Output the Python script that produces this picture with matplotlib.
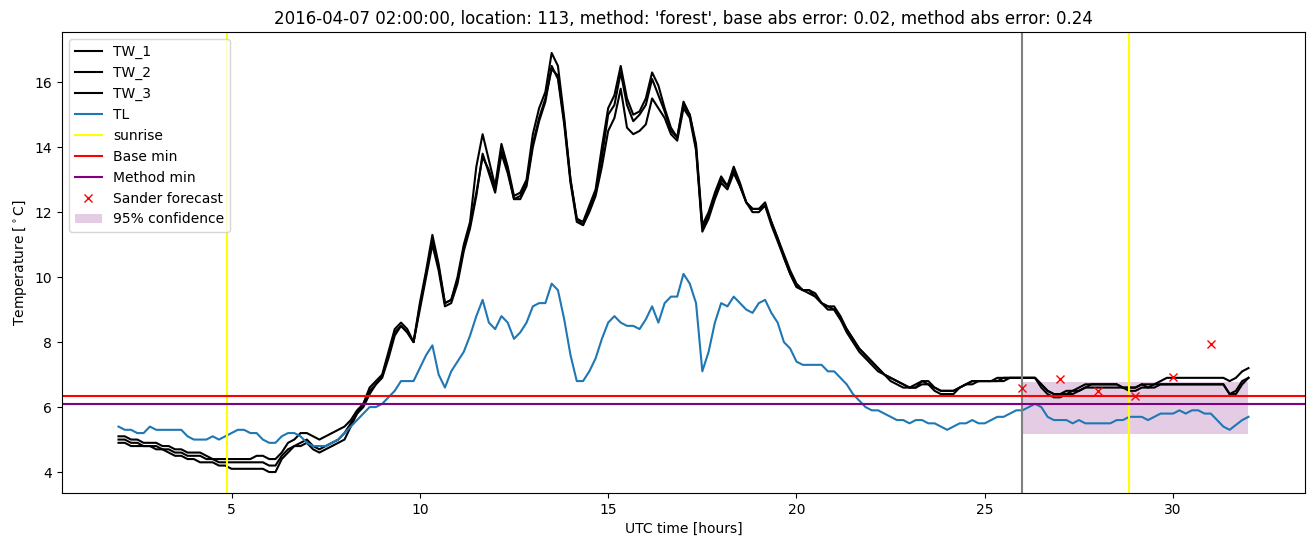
import numpy as np
import matplotlib.pyplot as plt

# 10-minute readings from 02:00 on day 1 to 08:00 on day 2 (hours since midnight)
hours = 2 + np.arange(181) / 6

tw_1 = [5.1, 5.1, 5.0, 5.0, 4.9, 4.9,
        4.9, 4.8, 4.8, 4.7, 4.7, 4.6,
        4.6, 4.6, 4.5, 4.4, 4.4, 4.4,
        4.4, 4.4, 4.4, 4.4, 4.5, 4.5,
        4.4, 4.4, 4.6, 4.9, 5.0, 5.2,
        5.2, 5.1, 5.0, 5.1, 5.2, 5.3,
        5.4, 5.6, 5.9, 6.1, 6.6, 6.8,
        7.0, 7.7, 8.4, 8.6, 8.4, 8.0,
        9.2, 10.2, 11.3, 10.4, 9.2, 9.3,
        10.0, 11.0, 11.7, 13.4, 14.4, 13.6,
        12.8, 14.1, 13.4, 12.5, 12.6, 13.0,
        14.4, 15.2, 15.7, 16.9, 16.5, 14.9,
        13.0, 11.8, 11.7, 12.2, 12.7, 14.0,
        15.2, 15.6, 16.5, 15.5, 15.0, 15.1,
        15.5, 16.3, 15.9, 15.2, 14.6, 14.3,
        15.4, 15.0, 14.1, 11.6, 12.0, 12.6,
        13.1, 12.8, 13.4, 12.9, 12.3, 12.1,
        12.1, 12.3, 11.7, 11.2, 10.6, 10.1,
        9.7, 9.6, 9.6, 9.4, 9.2, 9.1,
        9.0, 8.7, 8.4, 8.1, 7.8, 7.6,
        7.4, 7.2, 7.0, 6.9, 6.8, 6.7,
        6.6, 6.7, 6.8, 6.7, 6.6, 6.5,
        6.5, 6.5, 6.6, 6.7, 6.8, 6.8,
        6.8, 6.8, 6.9, 6.9, 6.9, 6.9,
        6.9, 6.9, 6.9, 6.7, 6.5, 6.4,
        6.4, 6.5, 6.5, 6.6, 6.7, 6.7,
        6.7, 6.7, 6.7, 6.7, 6.6, 6.6,
        6.6, 6.7, 6.7, 6.7, 6.8, 6.9,
        6.9, 6.9, 6.9, 6.9, 6.9, 6.9,
        6.9, 6.9, 6.9, 6.8, 6.9, 7.1,
        7.2]

tw_2 = [5.0, 5.0, 4.9, 4.9, 4.8, 4.8,
        4.8, 4.7, 4.7, 4.6, 4.6, 4.5,
        4.5, 4.5, 4.4, 4.4, 4.3, 4.3,
        4.3, 4.3, 4.3, 4.3, 4.3, 4.3,
        4.2, 4.2, 4.5, 4.7, 4.8, 4.9,
        5.0, 4.8, 4.7, 4.8, 4.9, 5.0,
        5.2, 5.5, 5.8, 6.1, 6.5, 6.7,
        6.95, 7.6, 8.3, 8.5, 8.3, 8.0,
        9.1, 10.1, 11.1, 10.3, 9.2, 9.3,
        9.9, 10.9, 11.6, 12.6, 13.7, 13.3,
        12.7, 13.9, 13.3, 12.4, 12.5, 12.9,
        14.1, 14.9, 15.5, 16.4, 16.2, 14.8,
        13.0, 11.8, 11.6, 12.1, 12.6, 13.7,
        15.0, 15.3, 16.3, 15.3, 14.8, 15.0,
        15.3, 16.1, 15.6, 15.1, 14.5, 14.3,
        15.3, 15.0, 14.0, 11.5, 11.9, 12.5,
        13.0, 12.8, 13.3, 12.8, 12.3, 12.1,
        12.1, 12.2, 11.7, 11.2, 10.7, 10.2,
        9.8, 9.6, 9.6, 9.5, 9.2, 9.1,
        9.1, 8.8, 8.4, 8.1, 7.8, 7.6,
        7.4, 7.2, 7.0, 6.9, 6.8, 6.7,
        6.6, 6.6, 6.8, 6.8, 6.6, 6.5,
        6.5, 6.5, 6.6, 6.7, 6.8, 6.8,
        6.8, 6.8, 6.8, 6.9, 6.9, 6.9,
        6.9, 6.9, 6.9, 6.7, 6.5, 6.4,
        6.4, 6.4, 6.5, 6.5, 6.6, 6.7,
        6.7, 6.7, 6.7, 6.7, 6.6, 6.6,
        6.6, 6.7, 6.6, 6.7, 6.7, 6.7,
        6.7, 6.7, 6.7, 6.7, 6.7, 6.7,
        6.7, 6.7, 6.7, 6.4, 6.5, 6.8,
        6.9]

tw_3 = [4.9, 4.9, 4.8, 4.8, 4.8, 4.8,
        4.7, 4.7, 4.6, 4.5, 4.5, 4.4,
        4.4, 4.3, 4.3, 4.3, 4.2, 4.2,
        4.1, 4.1, 4.1, 4.1, 4.1, 4.1,
        4.0, 4.0, 4.4, 4.6, 4.8, 4.8,
        4.9, 4.7, 4.6, 4.7, 4.8, 4.9,
        5.0, 5.4, 5.8, 6.0, 6.4, 6.7,
        6.9, 7.5, 8.2, 8.5, 8.3, 8.0,
        9.0, 10.0, 11.0, 10.2, 9.1, 9.2,
        9.8, 10.8, 11.5, 12.5, 13.8, 13.2,
        12.6, 13.8, 13.2, 12.4, 12.4, 12.8,
        14.0, 14.8, 15.4, 16.5, 16.1, 14.7,
        12.9, 11.7, 11.6, 12.0, 12.5, 13.4,
        14.5, 14.9, 15.8, 14.6, 14.4, 14.5,
        14.7, 15.5, 15.2, 14.9, 14.4, 14.2,
        15.2, 14.9, 13.9, 11.4, 11.8, 12.4,
        12.9, 12.7, 13.2, 12.8, 12.3, 12.0,
        12.0, 12.2, 11.6, 11.1, 10.6, 10.1,
        9.7, 9.6, 9.5, 9.4, 9.2, 9.0,
        9.0, 8.7, 8.3, 8.0, 7.7, 7.5,
        7.3, 7.1, 7.0, 6.8, 6.7, 6.6,
        6.6, 6.6, 6.7, 6.7, 6.5, 6.4,
        6.4, 6.4, 6.6, 6.7, 6.7, 6.8,
        6.8, 6.8, 6.8, 6.8, 6.9, 6.9,
        6.9, 6.9, 6.9, 6.6, 6.4, 6.3,
        6.3, 6.4, 6.4, 6.5, 6.6, 6.6,
        6.6, 6.6, 6.6, 6.6, 6.6, 6.5,
        6.5, 6.6, 6.6, 6.6, 6.7, 6.7,
        6.7, 6.7, 6.7, 6.7, 6.7, 6.7,
        6.7, 6.7, 6.7, 6.4, 6.4, 6.7,
        6.9]

tl = [5.4, 5.3, 5.3, 5.2, 5.2, 5.4,
      5.3, 5.3, 5.3, 5.3, 5.3, 5.1,
      5.0, 5.0, 5.0, 5.1, 5.0, 5.1,
      5.2, 5.3, 5.3, 5.2, 5.2, 5.0,
      4.9, 4.9, 5.1, 5.2, 5.2, 5.1,
      4.9, 4.8, 4.8, 4.8, 4.9, 5.0,
      5.2, 5.4, 5.6, 5.8, 6.0, 6.0,
      6.1, 6.3, 6.5, 6.8, 6.8, 6.8,
      7.2, 7.6, 7.9, 7.0, 6.6, 7.1,
      7.4, 7.7, 8.2, 8.8, 9.3, 8.6,
      8.4, 8.8, 8.6, 8.1, 8.3, 8.6,
      9.1, 9.2, 9.2, 9.8, 9.6, 8.7,
      7.6, 6.8, 6.8, 7.1, 7.5, 8.1,
      8.6, 8.8, 8.6, 8.5, 8.5, 8.4,
      8.7, 9.1, 8.6, 9.2, 9.4, 9.4,
      10.1, 9.8, 9.2, 7.1, 7.7, 8.6,
      9.2, 9.1, 9.4, 9.2, 9.0, 8.9,
      9.2, 9.3, 8.9, 8.6, 8.0, 7.8,
      7.4, 7.3, 7.3, 7.3, 7.3, 7.1,
      7.1, 6.9, 6.7, 6.4, 6.2, 6.0,
      5.9, 5.9, 5.8, 5.7, 5.6, 5.6,
      5.5, 5.6, 5.6, 5.5, 5.5, 5.4,
      5.3, 5.4, 5.5, 5.5, 5.6, 5.5,
      5.5, 5.6, 5.7, 5.7, 5.8, 5.9,
      5.9, 6.0, 6.1, 6.0, 5.7, 5.6,
      5.6, 5.6, 5.5, 5.6, 5.5, 5.5,
      5.5, 5.5, 5.5, 5.6, 5.6, 5.7,
      5.7, 5.7, 5.6, 5.7, 5.8, 5.8,
      5.8, 5.9, 5.8, 5.9, 5.9, 5.8,
      5.8, 5.6, 5.4, 5.3, 5.45, 5.6,
      5.7]

sunrise = [4.88, 28.84]
forecast_start = 26.0
base_min = 6.34
method_min = 6.08
sander_hours = [26, 27, 28, 29, 30, 31]
sander_temp = [6.6, 6.85, 6.5, 6.33, 6.92, 7.93]
conf_hours = [26, 32]
conf_low = 5.16
conf_high = 6.78

fig, ax = plt.subplots(figsize=(13.11, 5.47))
fig.subplots_adjust(left=0.0473, right=0.9954, top=0.9415, bottom=0.0987)

ax.plot(hours, tw_1, color='black', label='TW_1')
ax.plot(hours, tw_2, color='black', label='TW_2')
ax.plot(hours, tw_3, color='black', label='TW_3')
ax.plot(hours, tl, label='TL')
ax.axvline(sunrise[0], color='yellow', label='sunrise')
ax.axvline(sunrise[1], color='yellow')
ax.axvline(forecast_start, color='gray')
ax.axhline(base_min, color='red', label='Base min')
ax.axhline(method_min, color='purple', label='Method min')
ax.plot(sander_hours, sander_temp, 'rx', label='Sander forecast')
ax.fill_between(conf_hours, conf_low, conf_high, color='purple', alpha=0.2,
                linewidth=0, label='95% confidence')

ax.set_title("2016-04-07 02:00:00, location: 113, method: 'forest', "
             "base abs error: 0.02, method abs error: 0.24")
ax.set_xlabel('UTC time [hours]')
ax.set_ylabel(r'Temperature [$^\circ$C]')
ax.legend(loc='upper left')

fig.savefig('out.png', dpi=100)
